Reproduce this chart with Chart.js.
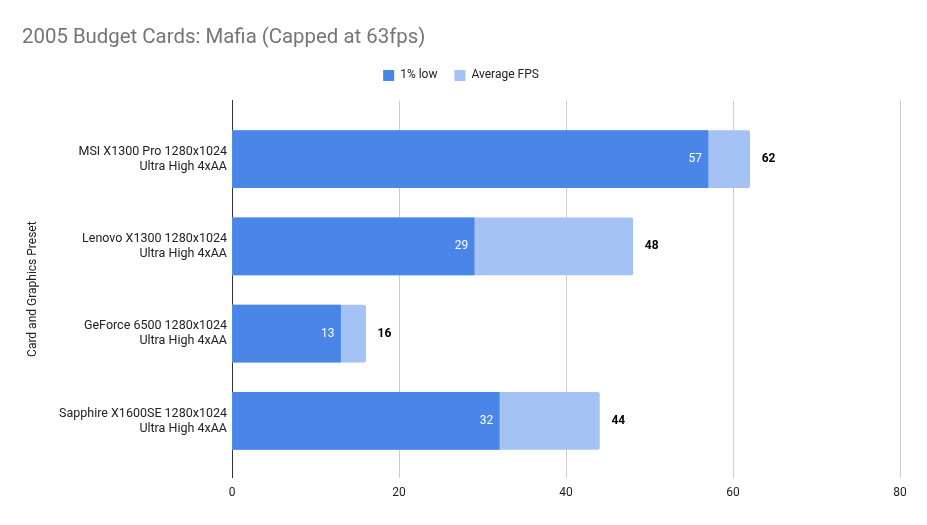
<!DOCTYPE html>
<html>
<head>
<meta charset="utf-8">
<script src="https://cdn.jsdelivr.net/npm/chart.js@4"></script>
<style>
  html, body { margin: 0; padding: 0; background: #fff; }
  #wrap { width: 927px; height: 525px; }
</style>
</head>
<body>
<div id="wrap"><canvas id="fpsChart" width="927" height="525"></canvas></div>
<script>
const categories = [
  ["MSI X1300 Pro 1280x1024", "Ultra High 4xAA"],
  ["Lenovo X1300 1280x1024", "Ultra High 4xAA"],
  ["GeForce 6500 1280x1024", "Ultra High 4xAA"],
  ["Sapphire X1600SE 1280x1024", "Ultra High 4xAA"],
];
const lowFps = [57, 29, 13, 32];
const avgFps = [62, 48, 16, 44];
const xTicks = [0, 20, 40, 60, 80];

const toPoints = (vals) => vals.map((v, i) => ({ x: v, y: i }));

const ctx = document.getElementById("fpsChart").getContext("2d");

new Chart(ctx, {
  type: "bar",
  data: {
    datasets: [
      {
        label: "1% low",
        data: toPoints(lowFps),
        backgroundColor: "#4a86e8",
        grouped: false,
        barThickness: 57,
      },
      {
        label: "Average FPS",
        data: toPoints(avgFps),
        backgroundColor: "#a4c2f4",
        grouped: false,
        barThickness: 57,
        borderRadius: 2,
        borderSkipped: "start",
      },
    ],
  },
  options: {
    responsive: false,
    animation: false,
    indexAxis: "y",
    layout: { padding: { left: 22, right: 27, top: 0, bottom: 17 } },
    plugins: {
      title: {
        display: true,
        text: "2005 Budget Cards: Mafia (Capped at 63fps)",
        align: "start",
        color: "#757575",
        font: { family: "Roboto", size: 20.4, weight: "normal" },
        padding: { top: 26, bottom: 2 },
      },
      legend: {
        position: "top",
        labels: {
          color: "#222",
          font: { family: "Roboto", size: 12 },
          boxWidth: 11,
          boxHeight: 11,
          padding: 17,
        },
      },
      // empty spacer between legend and plot
      subtitle: {
        display: true,
        text: "",
        weight: 500,
        font: { size: 1 },
        padding: { top: 0, bottom: 8 },
      },
      tooltip: { enabled: false },
    },
    scales: {
      x: {
        min: 0,
        max: 80,
        afterBuildTicks: (s) => { s.ticks = xTicks.map((v) => ({ value: v })); },
        grid: {
          drawTicks: false,
          color: (c) => (c.tick && c.tick.value === 0 ? "rgba(0,0,0,0)" : "#cccccc"),
        },
        border: { display: false },
        ticks: {
          color: "#222",
          font: { family: "Roboto", size: 12 },
          padding: 8,
        },
      },
      y: {
        type: "linear",
        reverse: true,
        offset: false,
        min: -0.67,
        max: 3.65,
        afterBuildTicks: (s) => { s.ticks = categories.map((_, i) => ({ value: i })); },
        afterFit: (s) => { s.width = 210; },
        grid: { display: false, drawTicks: false, offset: false },
        border: { display: true, color: "#333", width: 1 },
        ticks: {
          color: "#222",
          font: { family: "Roboto", size: 12.5 },
          padding: 5,
          callback: (v) => categories[v],
        },
        title: {
          display: true,
          text: "Card and Graphics Preset",
          color: "#222",
          font: { family: "Roboto", size: 12 },
          padding: { top: 4, bottom: 0 },
        },
      },
    },
  },
  plugins: [
    {
      id: "barValues",
      afterDatasetsDraw(chart) {
        const { ctx } = chart;
        ctx.save();
        ctx.textBaseline = "middle";
        chart.getDatasetMeta(0).data.forEach((bar, i) => {
          ctx.font = "12px Roboto";
          ctx.fillStyle = "#ffffff";
          ctx.textAlign = "right";
          ctx.fillText(String(lowFps[i]), bar.x - 6, bar.y);
        });
        chart.getDatasetMeta(1).data.forEach((bar, i) => {
          ctx.font = "bold 12px Roboto";
          ctx.fillStyle = "#000000";
          ctx.textAlign = "left";
          ctx.fillText(String(avgFps[i]), bar.x + 12, bar.y);
        });
        ctx.restore();
      },
    },
  ],
});
</script>
</body>
</html>
